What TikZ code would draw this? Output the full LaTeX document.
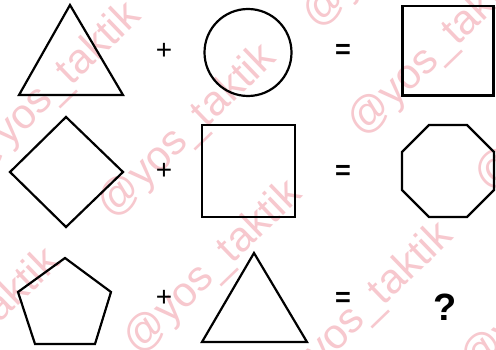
\documentclass[tikz,border=0pt]{standalone}
\usepackage{fontspec}
\setmainfont{Liberation Sans}
\definecolor{wmpink}{RGB}{247,200,206}
\begin{document}
\begin{tikzpicture}[x=1pt,y=-1pt,
  shp/.style={draw=black,line width=2.2pt,line join=miter},
  wm/.style={text=wmpink,font=\fontsize{42}{42}\selectfont,rotate=44,inner sep=0pt},
  opsign/.style={font=\fontsize{28}{28}\selectfont,inner sep=0pt},
  eqsign/.style={font=\bfseries\fontsize{27}{27}\selectfont,inner sep=0pt},
  qmark/.style={font=\bfseries\fontsize{38}{38}\selectfont,inner sep=0pt}]
\useasboundingbox (0,0) rectangle (496,350);
\fill[white] (0,0) rectangle (496,350);
\begin{scope}
\clip (0,0) rectangle (496,350);
\node[wm,anchor=east] (wmA) at (135,10) {@yos\_taktik};
\node[wm,anchor=east] (wmB) at (270,52) {@yos\_taktik};
\node[wm,anchor=west] (wmC) at (355,130) {@yos\_taktik};
\node[wm,anchor=east] (wmD) at (54,256) {@yos\_taktik};
\node[wm,anchor=east] (wmE) at (296,188) {@yos\_taktik};
\node[wm,anchor=east] (wmF) at (447,230) {@yos\_taktik};
\node[wm,anchor=west] (wmG) at (310,22) {@yos\_taktik};
\node[wm,anchor=west] (wmH) at (482,185) {@yos\_taktik};
\node[wm,anchor=west] (wmI) at (468,368) {@yos\_taktik};
\end{scope}
% row 1
\draw[shp] (70,5) -- (19,95) -- (123,95) -- cycle;
\node[opsign] (p1) at (164,51) {+};
\draw[shp] (248,52.5) circle (43.5);
\node[eqsign] (e1) at (343,51) {=};
\draw[shp] (402.5,6) rectangle (493.5,95.5);
% row 2
\draw[shp] (66,117) -- (123,172) -- (66,227) -- (10,172) -- cycle;
\node[opsign] (p2) at (164,171) {+};
\draw[shp] (202,125) rectangle (295,217);
\node[eqsign] (e2) at (343,172) {=};
\draw[shp] (402,152) -- (429,125) -- (467,125) -- (494,152) -- (494,190) -- (467,217) -- (429,217) -- (402,190) -- cycle;
% row 3
\draw[shp] (65,258) -- (111,292) -- (95,344) -- (35,344) -- (18,292) -- cycle;
\node[opsign] (p3) at (164,298) {+};
\draw[shp] (254,253) -- (307,342) -- (202,342) -- cycle;
\node[eqsign] (e3) at (343,299) {=};
\node[qmark] (q) at (445,307) {?};
\end{tikzpicture}
\end{document}
